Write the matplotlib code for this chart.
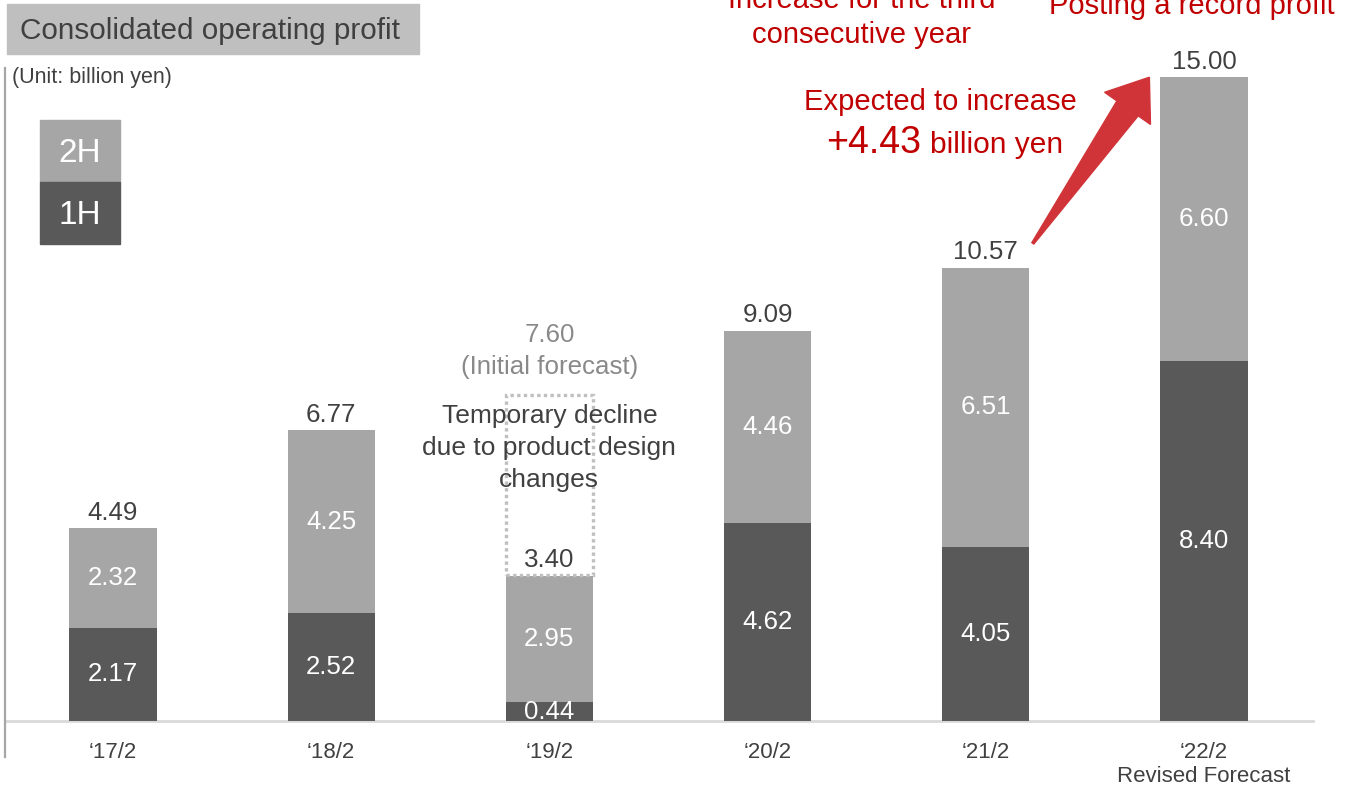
import matplotlib
matplotlib.use("Agg")
import matplotlib.pyplot as plt
import numpy as np
from matplotlib.patches import Rectangle, Polygon
from matplotlib.lines import Line2D
from matplotlib.transforms import IdentityTransform

plt.rcParams["font.family"] = ["Liberation Sans", "DejaVu Sans"]

# operating profit by fiscal year (billion yen)
periods = ["‘17/2", "‘18/2", "‘19/2", "‘20/2", "‘21/2", "‘22/2\nRevised Forecast"]
first_half = [2.17, 2.52, 0.44, 4.62, 4.05, 8.40]
second_half = [2.32, 4.25, 2.95, 4.46, 6.51, 6.60]
totals = [4.49, 6.77, 3.40, 9.09, 10.57, 15.00]
initial_forecast_19 = 7.60
increase_22 = 4.43

DARK = "#595959"
LIGHT = "#A6A6A6"
TEXT = "#404040"
RED = "#C00000"
NUM = 18.6

W, H = 1353, 789
fig = plt.figure(figsize=(W / 100, H / 100), dpi=100)
ax = fig.add_axes([5 / W, 68 / H, 1308 / W, 721 / H])

x = np.arange(len(periods))
bw = 0.40
ax.bar(x, first_half, bw, color=DARK, zorder=2)
ax.bar(x, second_half, bw, bottom=first_half, color=LIGHT, zorder=2)

ax.set_xlim(-0.495, 5.5)
ax.set_ylim(0, 16.8)
for s in ax.spines.values():
    s.set_visible(False)
ax.set_yticks([])
ax.set_xticks(x)
ax.set_xticklabels(periods, fontsize=16, color=TEXT, linespacing=1.2)
ax.tick_params(axis="x", length=0, pad=15)
ax.axhline(0, color="#D9D9D9", lw=2, clip_on=False, zorder=1)

# segment values
for i in range(len(periods)):
    ax.text(x[i], first_half[i] / 2, f"{first_half[i]:.2f}", ha="center", va="center",
            fontsize=NUM, color="white", zorder=3)
    ax.text(x[i], first_half[i] + second_half[i] / 2, f"{second_half[i]:.2f}",
            ha="center", va="center", fontsize=NUM, color="white", zorder=3)
    ax.text(x[i], totals[i] + 0.36, f"{totals[i]:.2f}", ha="center", va="center",
            fontsize=NUM, color=TEXT, zorder=3)

# '19/2 initial forecast outline
ax.add_patch(Rectangle((x[2] - bw / 2, totals[2]), bw, initial_forecast_19 - totals[2],
                       fill=False, ec="#BFBFBF", lw=2.4, ls=(0, (1, 1)), zorder=2))
ax.text(x[2], initial_forecast_19 + 1.39, f"{initial_forecast_19:.2f}", ha="center",
        va="center", fontsize=NUM, color="#898989")
ax.text(x[2], initial_forecast_19 + 0.65, "(Initial forecast)", ha="center",
        va="center", fontsize=NUM, color="#898989")
for k, line in enumerate(["Temporary decline", "due to product design", "changes"]):
    ax.text(x[2], 7.10 - 0.745 * k, line, ha="center", va="center", fontsize=19,
            color=TEXT, zorder=4)

# left rule
fig.add_artist(Line2D([5 / W, 5 / W], [1 - 757 / H, 1 - 68 / H], color="#A6A6A6",
                      lw=1.6, transform=fig.transFigure))

# title box
fig.add_artist(Rectangle((7 / W, 1 - 54 / H), 412 / W, 50 / H, color="#BFBFBF",
                         transform=fig.transFigure))
fig.text(20 / W, 1 - 31 / H, "Consolidated operating profit", fontsize=21.4,
         color=TEXT, va="center", ha="left")
fig.text(12 / W, 1 - 78 / H, "(Unit: billion yen)", fontsize=15.5, color=TEXT,
         va="center", ha="left")

# legend swatches
for label, col, top in [("2H", LIGHT, 120), ("1H", DARK, 182)]:
    fig.add_artist(Rectangle((40 / W, 1 - (top + 62) / H), 80 / W, 62 / H, color=col,
                             transform=fig.transFigure))
    fig.text(80 / W, 1 - (top + 34) / H, label, fontsize=24, color="white",
             ha="center", va="center")

# red callouts
fig.text(862 / W, 1 - 8 / H, "Increase for the third", fontsize=21, color=RED,
         ha="center", va="baseline")
fig.text(862 / W, 1 - 43 / H, "consecutive year", fontsize=21, color=RED,
         ha="center", va="baseline")
fig.text(1192 / W, 1 - 14 / H, "Posting a record profit", fontsize=21, color=RED,
         ha="center", va="baseline")
fig.text(940 / W, 1 - 110 / H, "Expected to increase", fontsize=21, color=RED,
         ha="center", va="baseline")
fig.text(921 / W, 1 - 153 / H, f"+{increase_22:.2f}", fontsize=27, color=RED,
         ha="right", va="baseline")
fig.text(930 / W, 1 - 153 / H, "billion yen", fontsize=21.5, color=RED,
         ha="left", va="baseline")

# arrow from '21/2 to '22/2
fig.canvas.draw()
tail = ax.transData.transform((x[4] + 0.216, totals[4] + 0.56))
tip = ax.transData.transform((x[5] - 0.25, totals[5]))
d = (tip - tail) / np.hypot(*(tip - tail))
n = np.array([-d[1], d[0]])
base = tip - d * 38
pts = [tail + n * 1.2, base + n * 13, base + n * 28, tip, base - n * 28, base - n * 13,
       tail - n * 1.2]
fig.add_artist(Polygon(pts, closed=True, color="#D13438", transform=IdentityTransform(),
                       zorder=5))

fig.savefig("out.png", dpi=100)
